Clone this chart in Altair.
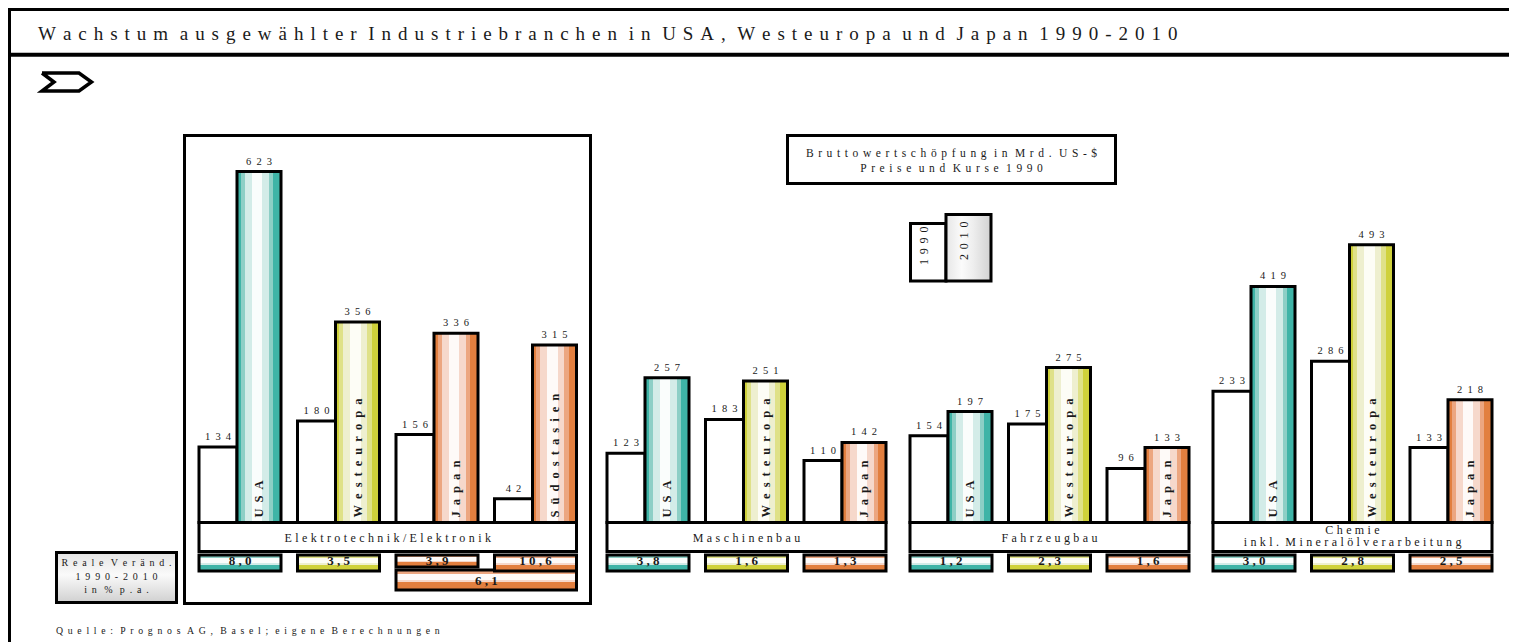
import altair as alt
import pandas as pd

# ---------------- data ----------------
title = "Wachstum ausgewählter Industriebranchen in USA, Westeuropa und Japan 1990-2010"
source = "Quelle: Prognos AG, Basel; eigene Berechnungen"
unit_lines = ["Bruttowertschöpfung in Mrd. US-$", "Preise und Kurse 1990"]
growth_lines = ["Reale Veränd.", "1990-2010", "in % p.a."]
years = ["1990", "2010"]

branch_lines = [["Elektrotechnik/Elektronik"], ["Maschinenbau"], ["Fahrzeugbau"],
                ["Chemie", "inkl. Mineralölverarbeitung"]]
branch_regions = [["USA", "Westeuropa", "Japan", "Südostasien"],
                  ["USA", "Westeuropa", "Japan"],
                  ["USA", "Westeuropa", "Japan"],
                  ["USA", "Westeuropa", "Japan"]]
val_1990 = [[134, 180, 156, 42], [123, 183, 110], [154, 175, 96], [233, 286, 133]]
val_2010 = [[623, 356, 336, 315], [257, 251, 142], [197, 275, 133], [419, 493, 218]]
growth = [[8.0, 3.5, 3.9, 10.6], [3.8, 1.6, 1.3], [1.2, 2.3, 1.6], [3.0, 2.8, 2.5]]
growth_japan_soa = 6.1

# ---------------- layout / style ----------------
W, H = 1501, 634
FONT = "Liberation Serif"
THIN = "\u2009"
HAIR = "\u200a"
SIX = "\u2006"


def spaced(s, sep=THIN):
    return (sep + " ").join(sep.join(w) for w in s.split(" "))


def de(v):
    return f"{v:.1f}".replace(".", ",")


PANEL_X = [199, 607, 910, 1213]
PITCH = 98.5
W90 = 38
WPAIR = 82
BASE = 522.5
K = 0.5634

XS = alt.Scale(domain=[8, 8 + W], nice=False, zero=False)
YP = alt.Scale(domain=[8, 8 + H], reverse=True, nice=False, zero=False)
YV = alt.Scale(domain=[-(8 + H - BASE) / K, (BASE - 8) / K], nice=False, zero=False)

PAL = {"USA": "teal", "Westeuropa": "yellow", "Japan": "orange", "Südostasien": "orange"}
COLS = {
    "teal": ["#3fb4a7", "#8dcfc6", "#d3ece8", "#fafdfc"],
    "yellow": ["#cfd13b", "#dfe188", "#eeefcf", "#fdfdf6"],
    "orange": ["#e27f3f", "#eca680", "#f6d8cb", "#fefaf8"],
}


def stops(pairs):
    out = []
    for c, a, b in pairs:
        out.append(alt.GradientStop(color=c, offset=a))
        out.append(alt.GradientStop(color=c, offset=b))
    return out


def vgrad(p):
    d, m, l, w = COLS[p]
    return alt.Gradient(gradient="linear", x1=0, x2=1, y1=0, y2=0, stops=stops([
        (d, 0, 0.09), (m, 0.09, 0.18), (l, 0.18, 0.33), (w, 0.33, 0.57),
        (l, 0.57, 0.72), (m, 0.72, 0.82), (d, 0.82, 1)]))


def hgrad(p):
    d, m, l, w = COLS[p]
    return alt.Gradient(gradient="linear", x1=0, x2=0, y1=0, y2=1, stops=stops([
        (m, 0, 0.18), (w, 0.18, 0.5), (l, 0.5, 0.62), (d, 0.62, 1)]))


gray_v = alt.Gradient(gradient="linear", x1=0, x2=1, y1=0, y2=0, stops=[
    alt.GradientStop(color="#e6e6e6", offset=0), alt.GradientStop(color="#fbfbfb", offset=0.35),
    alt.GradientStop(color="#eeeeee", offset=0.6), alt.GradientStop(color="#d2d2d2", offset=1)])
gray_h = alt.Gradient(gradient="linear", x1=0, x2=0, y1=0, y2=1, stops=[
    alt.GradientStop(color="#e4e4e4", offset=0), alt.GradientStop(color="#fafafa", offset=0.45),
    alt.GradientStop(color="#d0d0d0", offset=1)])

# ---------------- tables ----------------
rows, grows = [], []
for b, regs in enumerate(branch_regions):
    for i, r in enumerate(regs):
        x0 = PANEL_X[b] + i * PITCH
        g1 = 571
        if b == 0 and r == "Japan":
            g1 = 567
        rows.append(dict(region=r, pal=PAL[r], v90=val_1990[b][i], v10=val_2010[b][i], base=0,
                         x0=x0, x1=x0 + W90, x2=x0 + WPAIR, xc90=x0 + W90 / 2,
                         xc10=x0 + (W90 + WPAIR) / 2,
                         lab90=spaced(str(val_1990[b][i]), THIN + THIN + HAIR),
                         lab10=spaced(str(val_2010[b][i]), THIN + THIN + HAIR),
                         rlab=spaced(r, THIN + THIN + HAIR)))
        grows.append(dict(pal=PAL[r], gx0=x0, gx1=x0 + WPAIR, gy0=555, gy1=g1,
                          gxc=x0 + WPAIR / 2, gyt=564.5, glab=spaced(de(growth[b][i]), " ")))
bars = pd.DataFrame(rows)
gdf = pd.DataFrame(grows)
jx0 = PANEL_X[0] + 2 * PITCH
sdf = pd.DataFrame([dict(gx0=jx0, gx1=PANEL_X[0] + 3 * PITCH + WPAIR, gy0=570, gy1=590,
                         gxc=(jx0 + PANEL_X[0] + 3 * PITCH + WPAIR) / 2, gyt=585,
                         glab=spaced(de(growth_japan_soa), " "))])

cat_boxes, cat_text = [], []
for b, regs in enumerate(branch_regions):
    xa = PANEL_X[b]
    xb = PANEL_X[b] + (len(regs) - 1) * PITCH + WPAIR
    cat_boxes.append(dict(x=xa, x2=xb, y=BASE, y2=551.5))
    lines = branch_lines[b]
    ys = [541.5] if len(lines) == 1 else [533.5, 546]
    for ln, yy in zip(lines, ys):
        cat_text.append(dict(x=(xa + xb) / 2, y=yy, t=spaced(ln, THIN + HAIR)))
cat_boxes = pd.DataFrame(cat_boxes)
cat_text = pd.DataFrame(cat_text)


def X(f):
    return alt.X(f"{f}:Q", scale=XS, axis=None)


def YPx(f):
    return alt.Y(f"{f}:Q", scale=YP, axis=None)


def YVal(f):
    return alt.Y(f"{f}:Q", scale=YV, axis=None)


layers = []

# frame lines
frame = pd.DataFrame([
    dict(x=8, x2=8 + W, y=9.5, y2=9.5, sw=3),
    dict(x=8, x2=8 + W, y=54.7, y2=54.7, sw=4),
    dict(x=9.5, x2=9.5, y=8, y2=8 + H, sw=3),
])
layers.append(alt.Chart(frame).mark_rule(color="black").encode(
    x=X("x"), x2="x2:Q", y=YPx("y"), y2="y2:Q", size=alt.Size("sw:Q", scale=None)))

# boxes
box_plain = pd.DataFrame([
    dict(x=184.5, x2=590.5, y=135.5, y2=603.5),
    dict(x=787.5, x2=1115.5, y=135.5, y2=183.5),
    dict(x=910.5, x2=946, y=223.5, y2=281),
])
layers.append(alt.Chart(box_plain).mark_rect(fill="white", stroke="black", strokeWidth=3).encode(
    x=X("x"), x2="x2:Q", y=YPx("y"), y2="y2:Q"))
layers.append(alt.Chart(pd.DataFrame([dict(x=946, x2=991, y=214.5, y2=281)])).mark_rect(
    fill=gray_v, stroke="black", strokeWidth=3).encode(x=X("x"), x2="x2:Q", y=YPx("y"), y2="y2:Q"))
layers.append(alt.Chart(pd.DataFrame([dict(x=56.5, x2=176.5, y=552.5, y2=602.5)])).mark_rect(
    fill=gray_h, stroke="black", strokeWidth=3).encode(x=X("x"), x2="x2:Q", y=YPx("y"), y2="y2:Q"))

# arrow
arrow = pd.DataFrame(dict(x=[42, 79, 91.5, 79, 42, 54, 42], y=[73, 73, 82, 91, 91, 82, 73],
                          i=list(range(7))))
layers.append(alt.Chart(arrow).mark_line(color="black", strokeWidth=3.5, strokeJoin="miter").encode(
    x=X("x"), y=YPx("y"), order="i:Q"))

# 1990 bars
layers.append(alt.Chart(bars).mark_rect(fill="white", stroke="black", strokeWidth=3).encode(
    x=X("x0"), x2="x1:Q", y=YVal("v90"), y2="base:Q"))
# 2010 bars
for p in ["teal", "yellow", "orange"]:
    layers.append(alt.Chart(bars).transform_filter(alt.datum.pal == p).mark_rect(
        fill=vgrad(p), stroke="black", strokeWidth=3).encode(
        x=X("x1"), x2="x2:Q", y=YVal("v10"), y2="base:Q"))

# category boxes
layers.append(alt.Chart(cat_boxes).mark_rect(fill="white", stroke="black", strokeWidth=3).encode(
    x=X("x"), x2="x2:Q", y=YPx("y"), y2="y2:Q"))

# growth bars
layers.append(alt.Chart(sdf).mark_rect(fill=hgrad("orange"), stroke="black", strokeWidth=3).encode(
    x=X("gx0"), x2="gx1:Q", y=YPx("gy0"), y2="gy1:Q"))
for p in ["teal", "yellow", "orange"]:
    layers.append(alt.Chart(gdf).transform_filter(alt.datum.pal == p).mark_rect(
        fill=hgrad(p), stroke="black", strokeWidth=3).encode(
        x=X("gx0"), x2="gx1:Q", y=YPx("gy0"), y2="gy1:Q"))

# texts
T = dict(font=FONT, color="#1a1a1a")
layers.append(alt.Chart(pd.DataFrame([dict(x=38, y=40, t=spaced(title, THIN + SIX))])).mark_text(
    align="left", baseline="alphabetic", fontSize=19, **T).encode(x=X("x"), y=YPx("y"), text="t:N"))
layers.append(alt.Chart(bars).mark_text(align="center", baseline="alphabetic", fontSize=10.5, dy=-7,
                                        **T).encode(x=X("xc90"), y=YVal("v90"), text="lab90:N"))
layers.append(alt.Chart(bars).mark_text(align="center", baseline="alphabetic", fontSize=10.5, dy=-7,
                                        **T).encode(x=X("xc10"), y=YVal("v10"), text="lab10:N"))
layers.append(alt.Chart(bars).mark_text(align="left", baseline="middle", fontSize=12.5, fontWeight="bold",
                                        angle=270, dx=5, **T).encode(
    x=X("xc10"), y=YVal("base"), text="rlab:N"))
layers.append(alt.Chart(cat_text).mark_text(align="center", baseline="alphabetic", fontSize=12, **T).encode(
    x=X("x"), y=YPx("y"), text="t:N"))
gtext = pd.concat([gdf[["gxc", "gyt", "glab"]], sdf[["gxc", "gyt", "glab"]]])
layers.append(alt.Chart(gtext).mark_text(align="center", baseline="alphabetic", fontSize=13,
                                         fontWeight="bold", **T).encode(
    x=X("gxc"), y=YPx("gyt"), text="glab:N"))
unit_df = pd.DataFrame(dict(x=[951.5, 951.5], y=[156.5, 172],
                            t=[spaced(s, THIN + THIN) for s in unit_lines]))
layers.append(alt.Chart(unit_df).mark_text(align="center", baseline="alphabetic", fontSize=11.5, **T).encode(
    x=X("x"), y=YPx("y"), text="t:N"))
yr_df = pd.DataFrame(dict(x=[924, 964], y=[265, 260], t=[spaced(s, THIN + THIN) for s in years]))
layers.append(alt.Chart(yr_df).mark_text(align="left", baseline="middle", fontSize=12, angle=270, **T).encode(
    x=X("x"), y=YPx("y"), text="t:N"))
gl_df = pd.DataFrame(dict(x=[116.5] * 3, y=[566, 579.5, 593],
                          t=[spaced(s, THIN + THIN + HAIR) for s in growth_lines]))
layers.append(alt.Chart(gl_df).mark_text(align="center", baseline="alphabetic", fontSize=10, **T).encode(
    x=X("x"), y=YPx("y"), text="t:N"))
layers.append(alt.Chart(pd.DataFrame([dict(x=56, y=634, t=spaced(source, THIN + THIN + HAIR))])).mark_text(
    align="left", baseline="alphabetic", fontSize=9.75, **T).encode(x=X("x"), y=YPx("y"), text="t:N"))

chart = alt.layer(*layers).resolve_scale(y="independent").properties(
    width=W, height=H, padding=0, autosize=alt.AutoSizeParams(type="none"), background="white"
).configure_view(stroke=None)

chart.save("out.html", embed_options={"renderer": "svg", "actions": False})
